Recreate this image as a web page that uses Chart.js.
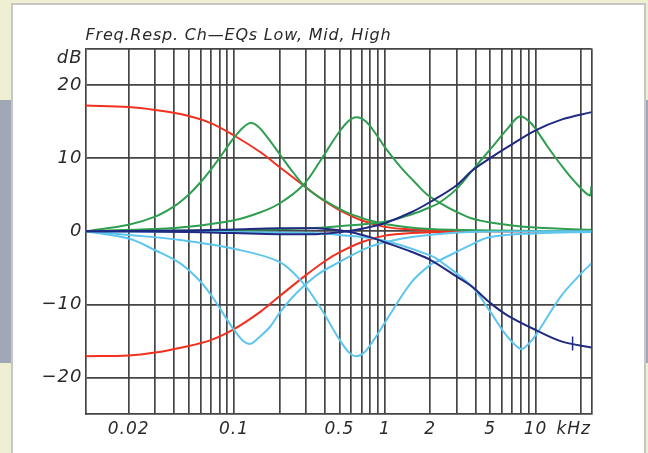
<!DOCTYPE html>
<html>
<head>
<meta charset="utf-8">
<script src="https://cdn.jsdelivr.net/npm/chart.js@4.4.1/dist/chart.umd.min.js"></script>
<style>
  html, body { margin: 0; padding: 0; }
  body { width: 648px; height: 453px; overflow: hidden; position: relative; background: #efefd3; }
  .band { position: absolute; top: 100px; height: 263px; background: #a2a7b7; }
  .card { position: absolute; left: 11px; top: 3px; width: 631px; height: 470px; background: #fff; border: 2px solid #c6c6c6; }
  #wrap { position: absolute; left: 0; top: 0; width: 648px; height: 453px; }
</style>
</head>
<body>
<div class="band" style="left:0;width:11px"></div>
<div class="band" style="left:645px;width:3px"></div>
<div class="card"></div>
<div id="wrap"><canvas id="freqResp"></canvas></div>
<script>
// frequency in kHz, level in dB
const fMin = 0.01035, fMax = 23.5;

const lowBoostF  = [fMin, 0.02, 0.03, 0.045, 0.07, 0.1, 0.15, 0.2, 0.3, 0.4, 0.5, 0.7, 1, 1.5, 2, 3, 5, fMax];
const lowBoostDb = [17.2, 17.0, 16.6, 16.0, 14.8, 13.1, 10.8, 8.8, 6.0, 4.1, 2.9, 1.5, 0.6, 0.25, 0.12, 0.05, 0, 0];
const lowCutDb   = [-17.1, -17.0, -16.6, -15.9, -14.9, -13.4, -11.0, -8.9, -6.0, -4.1, -2.9, -1.5, -0.6, -0.25, -0.12, -0.05, 0, 0];

const peakLowF  = [fMin, 0.02, 0.03, 0.04, 0.05, 0.06, 0.07, 0.08, 0.09, 0.1, 0.115, 0.129, 0.145, 0.17, 0.2, 0.25, 0.3, 0.4, 0.6, 1, 2, 5, fMax];
const peakLowDb = [0, 0.9, 2.0, 3.4, 5.0, 6.7, 8.4, 10.0, 11.5, 12.8, 14.2, 14.8, 14.3, 12.6, 10.6, 7.9, 6.0, 4.2, 2.3, 1.0, 0.3, 0.1, 0];

const peakMidF  = [fMin, 0.03, 0.05, 0.1, 0.15, 0.2, 0.287, 0.37, 0.48, 0.57, 0.65, 0.75, 0.88, 1.0, 1.27, 1.6, 2, 3.5, 5, 10, fMax];
const peakMidDb = [0, 0.3, 0.6, 1.5, 2.6, 3.8, 6.3, 9.5, 13.1, 15.0, 15.6, 15.0, 13.2, 11.5, 8.8, 6.6, 4.7, 2.0, 1.2, 0.5, 0.2];

const peakHighF  = [fMin, 0.1, 0.3, 0.5, 1, 1.5, 2, 2.3, 3, 3.8, 5, 6.5, 7.8, 9, 10, 12, 14.6, 18, 22.8, fMax];
const peakHighDb = [0, 0.15, 0.4, 0.7, 1.3, 2.3, 3.3, 3.9, 5.8, 8.3, 11.2, 14.0, 15.7, 15.1, 14.0, 11.6, 9.2, 6.9, 4.9, 6.2];

const dipLowF  = [fMin, 0.02, 0.03, 0.044, 0.06, 0.072, 0.09, 0.1, 0.115, 0.128, 0.145, 0.173, 0.2, 0.24, 0.287, 0.36, 0.48, 0.8, 1.3, 2, 3.7, fMax];
const dipLowDb = [0, -1.0, -2.6, -4.4, -6.9, -9.0, -12.1, -13.5, -15.0, -15.4, -14.6, -13.1, -11.2, -9.2, -7.6, -5.9, -4.4, -2.1, -1.0, -0.5, -0.1, 0];

const dipMidF  = [fMin, 0.02, 0.044, 0.1, 0.2, 0.287, 0.37, 0.5, 0.58, 0.65, 0.73, 0.85, 1.03, 1.5, 2, 2.3, 3.7, 5, 10, fMax];
const dipMidDb = [0, -0.5, -1.2, -2.4, -4.2, -7.1, -10.3, -14.8, -16.6, -17.1, -16.6, -14.8, -12.1, -7.0, -4.6, -4.0, -1.9, -0.8, -0.3, -0.1];

const dipHighF  = [fMin, 0.3, 0.5, 1, 2, 2.3, 3.8, 5, 6.5, 8, 9, 10.2, 14.6, 20, fMax];
const dipHighDb = [0, -0.2, -0.5, -1.3, -3.3, -4.0, -7.6, -11.0, -14.4, -16.1, -15.4, -14.0, -9.0, -5.8, -4.4];

const highF       = [fMin, 0.05, 0.1, 0.2, 0.35, 0.5, 0.65, 0.8, 1, 1.5, 2, 3, 3.8, 5, 6.5, 10, 15, fMax];
const highBoostDb = [0, -0.1, -0.25, -0.4, -0.4, -0.15, 0.2, 0.6, 1.1, 2.6, 4.0, 6.3, 8.3, 10.0, 11.5, 13.8, 15.3, 16.3];
const highCutDb   = [0, 0.1, 0.25, 0.4, 0.4, 0.15, -0.3, -0.8, -1.5, -2.8, -3.9, -6.2, -7.6, -9.8, -11.5, -13.5, -15.1, -15.9];

const markF = [17.6, 17.6];
const markDb = [-14.4, -16.3];

// axis ticks and labels
const xTicks = [0.02, 0.03, 0.04, 0.05, 0.06, 0.07, 0.08, 0.09, 0.1, 0.2, 0.3, 0.4, 0.5, 0.6, 0.7, 0.8, 0.9,
                1, 2, 3, 4, 5, 6, 7, 8, 9, 10, 20, 17.9, fMax];
const xLabels = { 0.02: '0.02', 0.1: '0.1', 0.5: '0.5', 1: '1', 2: '2', 5: '5', 10: '10', 17.9: 'kHz' };
const yTicks = [-20, -10, 0, 10, 20, 23.6, 25];
const yLabels = { '-20': '\u221220', '-10': '\u221210', 0: '0', 10: '10', 20: '20', 23.6: 'dB' };

const red = '#f2301f', green = '#2f9e50', cyan = '#5ec6ee', navy = '#1f2a80';
const gridCol = '#454545';

function series(fs, dbs) {
  return fs.map((f, i) => ({ x: f, y: dbs[i] }));
}
function line(fs, dbs, color) {
  return { data: series(fs, dbs), borderColor: color, borderWidth: 2, pointRadius: 0,
           fill: false, tension: 0.35 };
}

const titlePlugin = {
  id: 'topTitle',
  beforeDraw(chart) { chart.ctx.letterSpacing = '1px'; },
  afterDraw(chart) {
    const c = chart.ctx;
    c.save();
    c.font = 'italic 16px "DejaVu Sans"';
    c.fillStyle = '#2a2a2a';
    c.textAlign = 'left';
    c.textBaseline = 'alphabetic';
    c.letterSpacing = '0.8px';
    c.fillText('Freq.Resp. Ch\u2014EQs Low, Mid, High', chart.chartArea.left, 40);
    c.restore();
  }
};

const tickFont = size => ({ family: 'DejaVu Sans', size: size, style: 'italic' });

new Chart(document.getElementById('freqResp'), {
  type: 'line',
  data: {
    datasets: [
      { data: series(markF, markDb), borderColor: navy, borderWidth: 1.5, pointRadius: 0, tension: 0 },
      line(highF, highBoostDb, navy),
      line(highF, highCutDb, navy),
      line(dipLowF, dipLowDb, cyan),
      line(dipMidF, dipMidDb, cyan),
      line(dipHighF, dipHighDb, cyan),
      line(peakLowF, peakLowDb, green),
      line(peakMidF, peakMidDb, green),
      line(peakHighF, peakHighDb, green),
      line(lowBoostF, lowBoostDb, red),
      line(lowBoostF, lowCutDb, red)
    ]
  },
  options: {
    responsive: true,
    maintainAspectRatio: false,
    animation: false,
    layout: { padding: { left: 0, right: 56.5, top: 48.5, bottom: 0 } },
    plugins: { legend: { display: false }, tooltip: { enabled: false } },
    scales: {
      x: {
        type: 'logarithmic',
        min: fMin,
        max: fMax,
        afterBuildTicks: s => { s.ticks = xTicks.map(v => ({ value: v })); },
        afterFit: s => { s.height = 39; },
        grid: {
          color: c => (c.tick && c.tick.value === 17.9) ? 'rgba(0,0,0,0)' : gridCol,
          lineWidth: 1.7,
          drawTicks: false
        },
        border: { color: gridCol, width: 1.7 },
        ticks: {
          autoSkip: false, maxRotation: 0, minRotation: 0, padding: 5,
          color: '#2a2a2a', font: tickFont(17),
          callback: v => xLabels[v] || ''
        }
      },
      y: {
        type: 'linear',
        min: -25,
        max: 25,
        afterBuildTicks: s => { s.ticks = yTicks.map(v => ({ value: v })); },
        afterFit: s => { s.width = 85.5; },
        grid: {
          color: c => (c.tick && c.tick.value === 23.6) ? 'rgba(0,0,0,0)' : gridCol,
          lineWidth: 1.7,
          drawTicks: false
        },
        border: { color: gridCol, width: 1.7 },
        ticks: {
          padding: 3,
          color: '#2a2a2a', font: tickFont(18),
          callback: v => yLabels[v] || ''
        }
      }
    }
  },
  plugins: [titlePlugin]
});
</script>
</body>
</html>
